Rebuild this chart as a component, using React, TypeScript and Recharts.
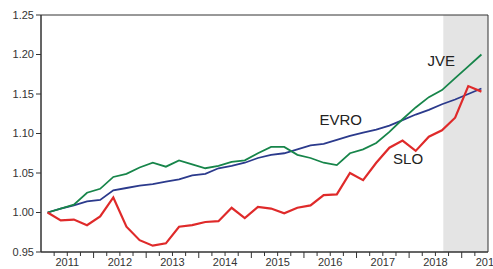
import { LineChart, Line, XAxis, YAxis, ReferenceArea, ReferenceDot } from 'recharts';

const PERIODS = [
  '2011Q1', '2011Q2', '2011Q3', '2011Q4', '2012Q1', '2012Q2', '2012Q3', '2012Q4',
  '2013Q1', '2013Q2', '2013Q3', '2013Q4', '2014Q1', '2014Q2', '2014Q3', '2014Q4',
  '2015Q1', '2015Q2', '2015Q3', '2015Q4', '2016Q1', '2016Q2', '2016Q3', '2016Q4',
  '2017Q1', '2017Q2', '2017Q3', '2017Q4', '2018Q1', '2018Q2', '2018Q3', '2018Q4',
  '2019Q1', '2019Q2',
];

const SLO = [
  1.0, 0.99, 0.991, 0.984, 0.995, 1.019, 0.982, 0.965, 0.958, 0.961, 0.982, 0.984,
  0.988, 0.989, 1.006, 0.993, 1.007, 1.005, 0.999, 1.006, 1.009, 1.022, 1.023, 1.05,
  1.041, 1.063, 1.082, 1.091, 1.078, 1.096, 1.104, 1.12, 1.16, 1.153,
];

const JVE = [
  1.0, 1.005, 1.01, 1.025, 1.03, 1.045, 1.049, 1.057, 1.063, 1.058, 1.066, 1.061,
  1.056, 1.059, 1.064, 1.066, 1.075, 1.083, 1.083, 1.073, 1.069, 1.063, 1.06, 1.075,
  1.08, 1.088, 1.102, 1.118, 1.133, 1.146, 1.155, 1.17, 1.185, 1.2,
];

const EVRO = [
  1.0, 1.005, 1.009, 1.014, 1.016, 1.028, 1.031, 1.034, 1.036, 1.039, 1.042, 1.047,
  1.049, 1.056, 1.059, 1.063, 1.069, 1.073, 1.075, 1.08, 1.085, 1.087, 1.092, 1.097,
  1.101, 1.105, 1.11, 1.117, 1.124, 1.13, 1.137, 1.143, 1.15, 1.157,
];

const YEARS = [2011, 2012, 2013, 2014, 2015, 2016, 2017, 2018, 2019];
const Y_TICKS = [0.95, 1.0, 1.05, 1.1, 1.15, 1.2, 1.25];
const SHADE_START = 2018.65;

// quarter midpoints on a continuous year scale
const data = PERIODS.map((p, i) => {
  const year = Number(p.slice(0, 4));
  const q = Number(p.slice(5));
  return { t: year + (q - 0.5) / 4, slo: SLO[i], jve: JVE[i], evro: EVRO[i] };
});

const X_MIN = YEARS[0];
const X_MAX = YEARS[YEARS.length - 1] + 0.5;
const xTicks: number[] = [];
for (let v = X_MIN; v <= X_MAX + 1e-9; v += 0.25) xTicks.push(Math.round(v * 100) / 100);

const FONT = '"Liberation Sans", Arial, sans-serif';
const AXIS = '#333';

function XTick(props: any) {
  const { x, y, payload } = props;
  const v: number = payload.value;
  const frac = v - Math.floor(v);
  const isYear = frac === 0;
  const isMid = Math.abs(frac - 0.5) < 1e-6;
  const len = isYear ? 6 : 4;
  return (
    <g>
      {v > X_MIN && v < X_MAX && <line x1={x} x2={x} y1={y} y2={y + len} stroke={AXIS} strokeWidth={1} />}
      {isMid && (
        <text x={x} y={y + 14} textAnchor="middle" fontSize={11} fill="#333" fontFamily={FONT}>
          {Math.floor(v)}
        </text>
      )}
    </g>
  );
}

const seriesLabel = (value: string) => ({
  value,
  position: 'center' as const,
  fontSize: 15,
  fill: '#222',
  fontFamily: FONT,
});

export default function App() {
  return (
    <div style={{ position: 'absolute', left: 0, top: 0 }}>
      <LineChart width={493} height={269} data={data} margin={{ top: 15, right: 5, left: 0, bottom: 0 }}>
        <XAxis
          dataKey="t"
          type="number"
          domain={[X_MIN, X_MAX]}
          ticks={xTicks}
          interval={0}
          tick={<XTick />}
          tickLine={false}
          tickSize={0}
          tickMargin={0}
          height={17}
          axisLine={{ stroke: AXIS }}
          allowDataOverflow
        />
        <YAxis
          domain={[0.95, 1.25]}
          ticks={Y_TICKS}
          width={41}
          tickSize={5}
          tickLine={{ stroke: AXIS }}
          axisLine={{ stroke: AXIS }}
          tickFormatter={(v: number) => v.toFixed(2)}
          tick={{ fontSize: 11, fill: '#333', fontFamily: FONT }}
          allowDataOverflow
        />
        <ReferenceArea x1={SHADE_START} x2={X_MAX} y1={0.95} y2={1.25} fill="#e4e4e4" fillOpacity={1} stroke="none" />
        <ReferenceArea x1={X_MIN} x2={X_MAX} y1={0.95} y2={1.25} fill="none" stroke={AXIS} strokeWidth={1} />
        <Line dataKey="evro" stroke="#2b3a8c" strokeWidth={1.8} dot={false} isAnimationActive={false} />
        <Line dataKey="jve" stroke="#17854a" strokeWidth={1.8} dot={false} isAnimationActive={false} />
        <Line dataKey="slo" stroke="#df2a2a" strokeWidth={2.2} dot={false} isAnimationActive={false} />
        <ReferenceDot x={2016.7} y={1.118} r={0} fill="none" stroke="none" label={seriesLabel('EVRO')} />
        <ReferenceDot x={2018.61} y={1.192} r={0} fill="none" stroke="none" label={seriesLabel('JVE')} />
        <ReferenceDot x={2017.98} y={1.068} r={0} fill="none" stroke="none" label={seriesLabel('SLO')} />
      </LineChart>
    </div>
  );
}
